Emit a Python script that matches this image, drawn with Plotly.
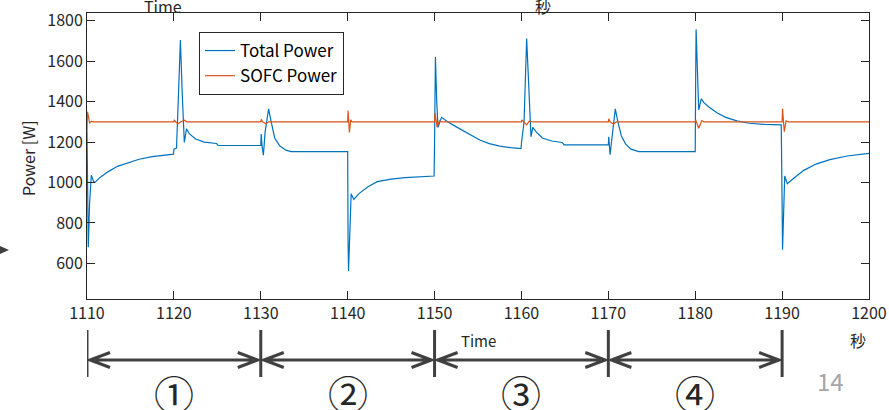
import plotly.graph_objects as go

# ---------------- data ----------------
total_t = [1110.00, 1110.05, 1110.15, 1110.30, 1110.50, 1110.75, 1110.90, 1111.5, 1112.5, 1113.5,
           1114.9, 1116.0, 1117.5, 1119.0, 1119.95, 1120.0, 1120.3, 1120.5, 1120.75, 1120.95,
           1121.2, 1121.45, 1121.8, 1122.5, 1123.5, 1124.9, 1125.1, 1130.0, 1130.05, 1130.15,
           1130.3, 1130.5, 1130.9, 1131.2, 1131.6, 1132.2, 1132.9, 1133.5, 1140.0, 1140.05,
           1140.1, 1140.4, 1140.7, 1141.3, 1142.3, 1143.4, 1145.0, 1146.6, 1148.5, 1149.95,
           1150.0, 1150.1, 1150.25, 1150.4, 1150.8, 1151.5, 1152.3, 1153.1, 1154.0, 1155.2,
           1156.3, 1157.5, 1158.8, 1159.95, 1160.0, 1160.3, 1160.6, 1160.85, 1161.1, 1161.3,
           1161.7, 1162.4, 1163.5, 1164.7, 1164.9, 1170.0, 1170.05, 1170.2, 1170.5, 1170.8,
           1171.1, 1171.5, 1172.0, 1172.6, 1173.5, 1180.0, 1180.05, 1180.1, 1180.4, 1180.7,
           1181.0, 1181.6, 1182.5, 1183.5, 1184.8, 1186.2, 1188.0, 1189.9, 1190.0, 1190.05,
           1190.3, 1190.6, 1191.3, 1192.5, 1193.9, 1195.5, 1197.5, 1199.8, 1200.0]
total_p = [1250, 900, 680, 900, 1036, 1005, 1000, 1025, 1055, 1080,
           1100, 1115, 1128, 1136, 1140, 1165, 1170, 1400, 1704, 1450,
           1198, 1265, 1240, 1215, 1200, 1193, 1183, 1183, 1240, 1180,
           1135, 1250, 1364, 1300, 1220, 1180, 1160, 1153, 1153, 700,
           563, 944, 916, 945, 978, 1004, 1017, 1024, 1029, 1032,
           1200, 1621, 1400, 1273, 1322, 1300, 1280, 1260, 1240, 1210,
           1192, 1180, 1172, 1168, 1193, 1300, 1712, 1450, 1226, 1273,
           1250, 1220, 1205, 1198, 1186, 1186, 1226, 1137, 1260, 1364,
           1300, 1230, 1190, 1165, 1153, 1153, 1500, 1757, 1359, 1414,
           1395, 1372, 1345, 1322, 1305, 1293, 1287, 1285, 900, 668,
           1032, 994, 1020, 1060, 1091, 1113, 1131, 1143, 1144]

sofc_t = [1110.0, 1110.05, 1110.15, 1110.3, 1110.5, 1110.8, 1120.0, 1120.05, 1120.2, 1120.5,
          1120.8, 1121.2, 1121.5, 1130.0, 1130.05, 1130.2, 1130.6, 1130.9, 1140.0, 1140.05,
          1140.2, 1140.35, 1140.5, 1150.0, 1150.05, 1150.3, 1150.55, 1150.8, 1160.0, 1160.05,
          1160.3, 1160.6, 1160.9, 1161.3, 1170.0, 1170.05, 1170.2, 1170.6, 1170.9, 1180.0,
          1180.05, 1180.4, 1180.75, 1181.0, 1190.0, 1190.05, 1190.25, 1190.45, 1190.7, 1200.0]
sofc_p = [1250, 1350, 1330, 1295, 1302, 1300, 1300, 1310, 1300, 1290,
          1300, 1308, 1300, 1300, 1312, 1300, 1290, 1300, 1300, 1356,
          1248, 1310, 1300, 1300, 1344, 1273, 1305, 1300, 1300, 1310,
          1298, 1285, 1303, 1300, 1300, 1315, 1300, 1288, 1300, 1300,
          1310, 1268, 1306, 1300, 1300, 1364, 1251, 1305, 1300, 1300]

x_ticks = [1110, 1120, 1130, 1140, 1150, 1160, 1170, 1180, 1190, 1200]
y_ticks = [600, 800, 1000, 1200, 1400, 1600, 1800]
segment_bounds = [1110, 1130, 1150, 1170, 1190]
segment_labels = ["①", "②", "③", "④"]
series_names = ["Total Power", "SOFC Power"]

# ---------------- layout helpers ----------------
W, H = 889, 410
ML, MR, MT, MB = 87, 20, 13, 111
PW, PH = W - ML - MR, H - MT - MB


def yp(py):
    return (H - MB - py) / PH


def xp(px):
    return (px - ML) / PW


FONT = "Noto Sans CJK JP, Noto Sans, sans-serif"
AX = "#262626"
DARK = "#404040"

fig = go.Figure()
fig.add_trace(go.Scatter(x=total_t, y=total_p, mode="lines", name=series_names[0],
                         line=dict(color="#0072BD", width=1.2)))
fig.add_trace(go.Scatter(x=sofc_t, y=sofc_p, mode="lines", name=series_names[1],
                         line=dict(color="#D95319", width=1.2)))

axis_common = dict(showline=True, linecolor=AX, linewidth=1, mirror="allticks",
                   ticks="inside", ticklen=8, tickcolor=AX, showgrid=False, zeroline=False,
                   tickfont=dict(family=FONT, size=16, color=AX), automargin=False)
fig.update_xaxes(range=[1110, 1200], tickvals=x_ticks, **axis_common)
fig.update_yaxes(range=[424, 1838], tickvals=y_ticks, **axis_common)

shapes = []
# vertical boundary bars
for b in segment_bounds:
    shapes.append(dict(type="line", xref="x", yref="paper", x0=b, x1=b, y0=yp(377), y1=yp(330),
                       line=dict(color=DARK, width=3)))
# double arrows
ym = yp(360)
hl = 2.3   # arrowhead length (data units)
hh = 7.5 / PH
tip = 0.35
for a, b in zip(segment_bounds[:-1], segment_bounds[1:]):
    a2, b2 = a + tip, b - tip
    path = (f"M {a2},{ym} L {b2},{ym} "
            f"M {a2 + hl},{ym + hh} L {a2},{ym} L {a2 + hl},{ym - hh} "
            f"M {b2 - hl},{ym + hh} L {b2},{ym} L {b2 - hl},{ym - hh}")
    shapes.append(dict(type="path", xref="x", yref="paper", path=path,
                       line=dict(color=DARK, width=3)))
# small arrow tip at far left edge
shapes.append(dict(type="path", xref="paper", yref="paper",
                   path=f"M {xp(0)},{yp(246)} L {xp(9)},{yp(250)} L {xp(0)},{yp(254)} Z",
                   fillcolor=DARK, line=dict(color=DARK, width=0)))

annotations = []
for a, b, lab in zip(segment_bounds[:-1], segment_bounds[1:], segment_labels):
    annotations.append(dict(x=(a + b) / 2, xref="x", y=yp(393), yref="paper", text=lab,
                            showarrow=False, xanchor="center", yanchor="middle",
                            font=dict(family=FONT, size=40, color="#262626")))
annotations += [
    dict(x=xp(28), y=yp(158), xref="paper", yref="paper", text="Power [W]", textangle=-90,
         xanchor="center", yanchor="middle",
         showarrow=False, font=dict(family=FONT, size=16, color=AX)),
    dict(x=xp(478), y=yp(340), xref="paper", yref="paper", text="Time",
         xanchor="center", yanchor="middle",
         showarrow=False, font=dict(family=FONT, size=15, color=AX)),
    dict(x=xp(858), y=yp(340), xref="paper", yref="paper", text="秒",
         xanchor="center", yanchor="middle",
         showarrow=False, font=dict(family=FONT, size=16, color=AX)),
    dict(x=xp(830), y=yp(380), xref="paper", yref="paper", text="14",
         xanchor="center", yanchor="middle",
         showarrow=False, font=dict(family=FONT, size=24, color="#a6a6a6")),
    dict(x=xp(163), y=yp(20), xref="paper", yref="paper", text="Time",
         xanchor="center", yanchor="bottom",
         showarrow=False, font=dict(family=FONT, size=16, color=AX)),
    dict(x=xp(543), y=yp(20), xref="paper", yref="paper", text="秒",
         xanchor="center", yanchor="bottom",
         showarrow=False, font=dict(family=FONT, size=16, color=AX)),
]

fig.update_layout(
    width=W, height=H, margin=dict(l=ML, r=MR, t=MT, b=MB, autoexpand=False),
    paper_bgcolor="white", plot_bgcolor="white",
    font=dict(family=FONT, color=AX),
    shapes=shapes, annotations=annotations,
    legend=dict(x=xp(199), y=yp(32), xanchor="left", yanchor="top",
                bgcolor="white", bordercolor=AX, borderwidth=1,
                font=dict(family=FONT, size=17, color="#000000"),
                tracegroupgap=0, itemwidth=30),
    showlegend=True,
)

fig.write_html("out.html", config={"displayModeBar": False},
               post_script="document.body.style.margin='0';document.body.style.overflow='hidden';")
